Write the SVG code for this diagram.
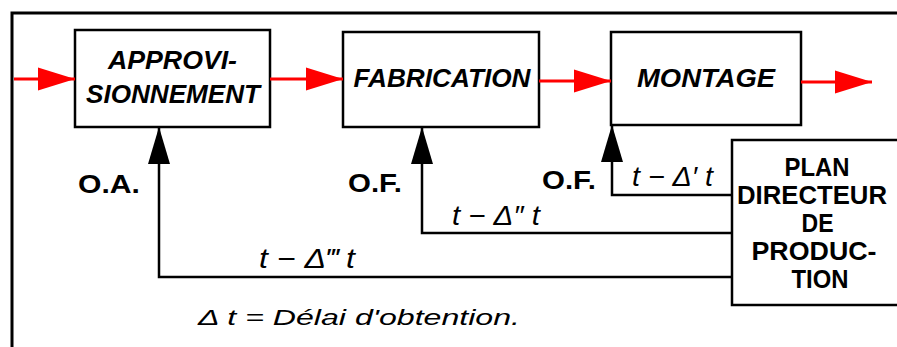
<svg xmlns="http://www.w3.org/2000/svg" width="897" height="347" viewBox="0 0 897 347">
<style>
  .box { fill: #fff; stroke: #000; stroke-width: 2.5; }
  .frame { fill: none; stroke: #000; stroke-width: 3; }
  .red { fill: none; stroke: #ff0000; stroke-width: 3; }
  .blk { fill: none; stroke: #000; stroke-width: 2.5; }
  .bi { font-family: "Liberation Sans", Arial, sans-serif; font-weight: bold; font-style: italic; font-size: 26px; fill: #000; text-anchor: middle; }
  .b { font-family: "Liberation Sans", Arial, sans-serif; font-weight: bold; font-size: 25px; fill: #000; }
  .bc { font-family: "Liberation Sans", Arial, sans-serif; font-weight: bold; font-size: 25px; fill: #000; text-anchor: middle; }
  .it { font-family: "Liberation Sans", Arial, sans-serif; font-style: italic; font-size: 27px; fill: #000; }
  .note { font-family: "Liberation Sans", Arial, sans-serif; font-style: italic; font-size: 22px; fill: #000; }
</style>
<defs>
  <marker id="redHead" markerUnits="userSpaceOnUse" markerWidth="37" markerHeight="23" refX="37" refY="11.5" orient="auto" overflow="visible">
    <path d="M0,0 L37,11.5 L0,23 Z" fill="#ff0000"/>
  </marker>
  <marker id="blkHead" markerUnits="userSpaceOnUse" markerWidth="37" markerHeight="22" refX="37" refY="11" orient="auto" overflow="visible">
    <path d="M0,0 L37,11 L0,22 Z" fill="#000"/>
  </marker>
</defs>
<rect width="897" height="347" fill="#fff"/>
<path class="frame" d="M12,360 V13 H910"/>

<g id="node-approvisionnement">
  <rect class="box" x="75" y="30" width="195" height="97"/>
  <text class="bi" x="172.5" y="69" textLength="129" lengthAdjust="spacingAndGlyphs">APPROVI-</text>
  <text class="bi" x="173" y="103" textLength="174" lengthAdjust="spacingAndGlyphs">SIONNEMENT</text>
</g>
<g id="node-fabrication">
  <rect class="box" x="343" y="32" width="196" height="95"/>
  <text class="bi" x="442" y="87" textLength="177" lengthAdjust="spacingAndGlyphs">FABRICATION</text>
</g>
<g id="node-montage">
  <rect class="box" x="611" y="32" width="190" height="93"/>
  <text class="bi" x="706" y="87" textLength="138" lengthAdjust="spacingAndGlyphs">MONTAGE</text>
</g>
<g id="node-plan">
  <rect class="box" x="732" y="140" width="180" height="165"/>
  <text class="bc" x="817" y="176" textLength="65" lengthAdjust="spacingAndGlyphs">PLAN</text>
  <text class="bc" x="812" y="204" textLength="150" lengthAdjust="spacingAndGlyphs">DIRECTEUR</text>
  <text class="bc" x="817.5" y="232" textLength="32" lengthAdjust="spacingAndGlyphs">DE</text>
  <text class="bc" x="814" y="260" textLength="125" lengthAdjust="spacingAndGlyphs">PRODUC-</text>
  <text class="bc" x="820" y="288" textLength="57" lengthAdjust="spacingAndGlyphs">TION</text>
</g>

<g id="connectors">
  <line class="red" x1="14" y1="79" x2="75" y2="79" marker-end="url(#redHead)"/>
  <line class="red" x1="270" y1="79" x2="343" y2="79" marker-end="url(#redHead)"/>
  <line class="red" x1="539" y1="81" x2="611" y2="81" marker-end="url(#redHead)"/>
  <line class="red" x1="801" y1="82" x2="872" y2="82" marker-end="url(#redHead)"/>
  <path class="blk" d="M732,277 H159 V127" marker-end="url(#blkHead)"/>
  <path class="blk" d="M732,233 H422 V127" marker-end="url(#blkHead)"/>
  <path class="blk" d="M732,195 H612 V125" marker-end="url(#blkHead)"/>
</g>

<g id="labels">
  <text class="b" x="78" y="193" textLength="62" lengthAdjust="spacingAndGlyphs">O.A.</text>
  <text class="b" x="348" y="192" textLength="54" lengthAdjust="spacingAndGlyphs">O.F.</text>
  <text class="b" x="542" y="189" textLength="54" lengthAdjust="spacingAndGlyphs">O.F.</text>
  <text class="it" x="259" y="268" textLength="96" lengthAdjust="spacingAndGlyphs">t − Δ‴ t</text>
  <text class="it" x="452" y="225" textLength="88" lengthAdjust="spacingAndGlyphs">t − Δ″ t</text>
  <text class="it" x="632" y="186" textLength="81" lengthAdjust="spacingAndGlyphs">t − Δ′ t</text>
  <text class="note" x="198" y="325" textLength="322" lengthAdjust="spacingAndGlyphs">Δ t = Délai d'obtention.</text>
</g>
</svg>
